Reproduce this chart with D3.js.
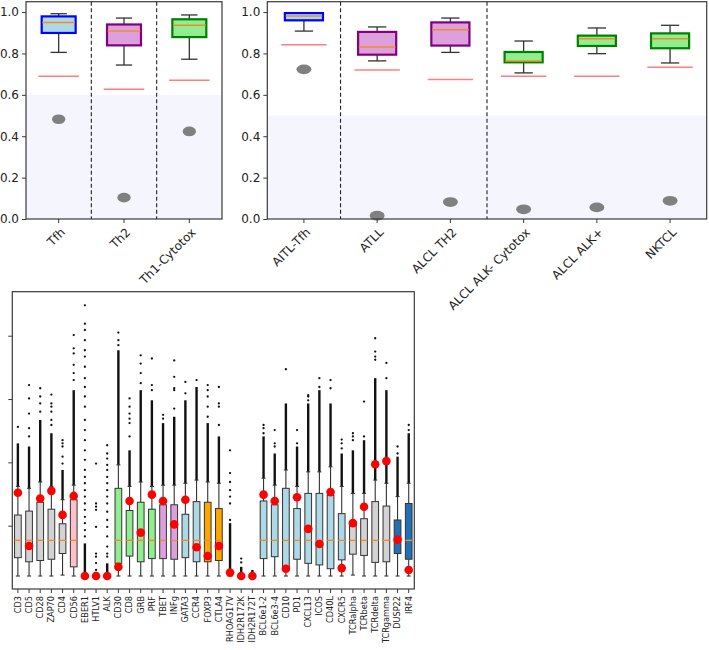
<!DOCTYPE html>
<html><head><meta charset="utf-8">
<script src="https://cdn.jsdelivr.net/npm/d3@7"></script>
<style>body{margin:0;background:#fff}svg text{font-family:"DejaVu Sans",sans-serif;fill:#222}</style>
</head><body><svg id="c" width="709" height="650"></svg>
<script>
// ---------- DATA: top-left panel ----------
const tlCats  = ["Tfh", "Th2", "Th1-Cytotox"];
const tlGroup = ["Tfh", "Th2", "Cytotox"];
const tlLow   = [0.805, 0.744, 0.772];
const tlQ1    = [0.899, 0.839, 0.879];
const tlMed   = [0.950, 0.908, 0.936];
const tlQ3    = [0.979, 0.940, 0.965];
const tlHigh  = [0.992, 0.971, 0.986];
const tlRef   = [0.690, 0.627, 0.670];
const tlDot   = [0.482, 0.103, 0.423];
const tlSepAfter = [0, 1];
const tlShade = 0.6;

// ---------- DATA: top-right panel ----------
const trCats  = ["AITL-Tfh", "ATLL", "ALCL TH2", "ALCL ALK- Cytotox", "ALCL ALK+", "NKTCL"];
const trGroup = ["Tfh", "Th2", "Th2", "Cytotox", "Cytotox", "Cytotox"];
const trLow   = [0.908, 0.764, 0.805, 0.706, 0.799, 0.754];
const trQ1    = [0.960, 0.794, 0.838, 0.757, 0.836, 0.825];
const trMed   = [0.981, 0.831, 0.915, 0.764, 0.871, 0.871];
const trQ3    = [0.995, 0.904, 0.950, 0.807, 0.886, 0.897];
const trHigh  = [0.995, 0.928, 0.971, 0.860, 0.923, 0.936];
const trRef   = [0.842, 0.720, 0.674, 0.690, 0.690, 0.733];
const trDot   = [0.723, 0.016, 0.082, 0.047, 0.056, 0.088];
const trSepAfter = [0, 2];
const trShade = 0.5;
const topTicks = [0.0, 0.2, 0.4, 0.6, 0.8, 1.0];

// ---------- DATA: bottom panel ----------
const bCats = ["CD3","CD5","CD28","ZAP70","CD4","CD56","EBER1","HTLV1","ALK","CD30","CD8","GRB","PRF","TBET","INFg","GATA3","CCR4","FOXP3","CTLA4","RHOAG17V","IDH2R172K","IDH2R172T","BCL6e1-2","BCL6e3-4","CD10","PD1","CXCL13","ICOS","CD40L","CXCR5","TCRalpha","TCRbeta","TCRdelta","TCRgamma","DUSP22","IRF4"];
const bGroup = ["T","T","T","T","T","NK","none","none","none","cyto","cyto","cyto","cyto","th1","th1","th2","th2","treg","treg","none","none","none","tfh","tfh","tfh","tfh","tfh","tfh","tfh","tfh","T","T","T","T","alk","alk"];
const bLow  = [2.05,2.05,2.05,2.05,2.2,2.05,2.05,2.05,2.05,2.05,2.05,2.05,2.05,2.05,2.05,2.05,2.05,2.05,2.05,2.05,2.05,2.05,2.05,2.05,2.05,2.05,2.05,2.05,2.05,2.05,2.2,2.05,2.05,2.05,2.05,2.05];
const bQ1   = [4.95,4.3,4.5,4.7,5.6,3.5,2.05,2.05,2.05,4.05,5.2,4.3,4.8,4.8,4.7,4.95,4.3,4.3,4.5,2.05,2.05,2.05,4.8,5.1,3.2,4.7,4.05,3.8,3.2,4.6,5.5,5.3,4.2,4.3,5.6,4.7];
const bMed  = [7.68,7.68,7.68,7.68,7.68,7.68,2.05,2.05,2.05,7.68,7.68,7.68,7.68,7.68,7.68,7.68,7.68,7.68,7.68,2.05,2.05,2.05,7.68,7.68,7.68,7.68,7.68,7.68,7.68,7.68,7.68,7.68,7.68,7.68,7.68,7.68];
const bQ3   = [11.68,12.3,13.7,12.6,10.3,14.1,2.05,2.05,2.05,15.9,12.4,13.7,12.6,13.3,13.3,11.8,13.8,13.7,12.7,2.05,2.05,2.05,13.9,13.3,15.9,12.7,15.1,15.1,14.8,11.9,10.2,11.1,13.8,13.1,10.9,13.5];
const bHigh = [16.2,15.9,16.9,16.2,14.1,16.4,2.05,2.05,2.05,19.6,16.2,16.9,16.2,16.4,16.4,16.7,17.2,16.9,16.7,2.05,2.05,2.05,17.5,16.4,18.8,16.2,18.5,18.5,19.3,16.2,15.1,15.1,17.2,16.7,14.6,16.7];
const bDenseTop = [23.0,22.5,26.7,24.6,18.8,31.4,7.2,2.7,4.05,37.7,21.9,31.4,29.8,26.2,27.2,29.8,31.9,26.2,24.1,10.4,3.5,3.0,24.1,21.4,29.3,22.5,29.3,31.4,29.3,21.4,21.9,23.5,33.3,31.4,20.9,24.6];
const bRed  = [15.2,6.8,14.3,15.5,11.7,14.7,2.05,2.05,2.05,3.5,13.9,8.9,14.9,13.9,10.2,14.1,6.6,5.2,6.8,2.6,2.05,2.05,14.9,13.9,3.2,14.5,9.5,7.1,15.3,3.3,10.4,13.0,19.7,20.2,7.8,3.0];
const bOutliers = [
  [25.6],
  [24.1,25.4,27.7,30.1,32.2],
  [28.0,29.3,30.4,31.7],
  [25.9,26.7,28.0,28.8,29.3,30.7],
  [19.8,20.9,22.5,23.0,23.5],
  [33.0,34.1,35.4,37.2,38.0,40.1],
  [8.3,9.3,10.4,11.4,12.5,13.5,14.6,15.6,16.7,17.7,18.8,20.4,21.9,23.5,25.1,26.7,28.8,30.4,31.9,33.3,35.1,36.7,37.7,39.3,40.9,41.9,44.8],
  [3.0,4.1,5.1,5.6,9.8,12.5,13.0,13.5,19.8],
  [5.1,5.6,6.7,8.3,9.8,10.9,12.2,13.5,14.6,15.6,16.7,17.7,18.8,19.6,20.6,21.4,22.7],
  [38.5,39.3,40.5],
  [24.1,26.2,26.9,27.7,28.8,30.1],
  [32.5,34.1,35.6,36.9],
  [31.4,32.2,36.4],
  [26.9,27.5],
  [28.5,31.4,31.7,33.5,36.1],
  [30.9,32.7],
  [33.0],
  [27.2,28.8,30.4,31.4,32.2],
  [25.9,28.8,29.3,31.9],
  [10.9,13.5,14.6,15.6,16.9,18.3,21.9],
  [4.2,4.8],
  [],
  [24.6,25.4,25.9],
  [22.5,23.0,25.1],
  [34.7],
  [23.0,25.1],
  [29.8,30.4,30.6],
  [31.9,33.3],
  [31.7,33.0],
  [22.2,23.0,23.6],
  [23.5,24.1,24.6],
  [24.1,29.6],
  [36.2,36.7,37.5,39.6],
  [33.3,35.7],
  [21.4,22.5],
  [25.1,25.9]
];
const bTicks = [10, 20, 30, 40];

// ---------- STYLES ----------
const topFill = {Tfh: "#add8e6", Th2: "#dda0dd", Cytotox: "#90ee90"};
const topEdge = {Tfh: "#0000ff", Th2: "#800080", Cytotox: "#008000"};
const botFill = {T: "#d3d3d3", NK: "#ffc0cb", none: "#d3d3d3", cyto: "#90ee90", th1: "#dda0dd", th2: "#add8e6", treg: "#ffa500", tfh: "#add8e6", alk: "#1f70b4"};
const MED = "#f28c28", FRAME = "#3a3a3a";

const svg = d3.select("#c");

function topPanel(o) {
  const g = svg.append("g");
  const y = d3.scaleLinear().domain([0, 1.05]).range([219, 1.7]);
  const x = d3.scaleBand().domain(o.cats).range([o.x0, o.x1]).padding(0);
  const bw = x.bandwidth();
  const idx = d3.range(o.cats.length);
  const cx = i => x(o.cats[i]) + bw / 2;
  g.append("rect").attr("x", o.x0).attr("width", o.x1 - o.x0)
    .attr("y", y(o.shade)).attr("height", y(0) - y(o.shade)).attr("fill", "#f5f6fd");
  g.selectAll(".sep").data(o.sep).join("line")
    .attr("x1", d => x(o.cats[d]) + bw).attr("x2", d => x(o.cats[d]) + bw)
    .attr("y1", y.range()[1]).attr("y2", y(0))
    .attr("stroke", "#222").attr("stroke-width", 1.1).attr("stroke-dasharray", "4,2.5");
  g.selectAll(".ref").data(idx).join("line")
    .attr("x1", i => cx(i) - 0.31 * bw).attr("x2", i => cx(i) + 0.31 * bw)
    .attr("y1", i => y(o.ref[i])).attr("y2", i => y(o.ref[i]))
    .attr("stroke", "#ff7f7f").attr("stroke-width", 1.5);
  g.selectAll(".dot").data(idx).join("ellipse")
    .attr("cx", cx).attr("cy", i => y(o.dot[i]))
    .attr("rx", 0.102 * bw).attr("ry", y(0) - y(0.0235)).attr("fill", "#808080");
  idx.forEach(i => {
    const c = cx(i);
    g.append("line").attr("x1", c).attr("x2", c).attr("y1", y(o.low[i])).attr("y2", y(o.q1[i])).attr("stroke", "#333").attr("stroke-width", 1.3);
    g.append("line").attr("x1", c).attr("x2", c).attr("y1", y(o.q3[i])).attr("y2", y(o.high[i])).attr("stroke", "#333").attr("stroke-width", 1.3);
    [o.low[i], o.high[i]].forEach(v => g.append("line").attr("x1", c - 0.125 * bw).attr("x2", c + 0.125 * bw)
      .attr("y1", y(v)).attr("y2", y(v)).attr("stroke", "#333").attr("stroke-width", 1.3));
  });
  g.selectAll(".box").data(idx).join("rect")
    .attr("x", i => cx(i) - 0.26 * bw).attr("width", 0.52 * bw)
    .attr("y", i => y(o.q3[i])).attr("height", i => y(o.q1[i]) - y(o.q3[i]))
    .attr("fill", i => topFill[o.group[i]]).attr("stroke", i => topEdge[o.group[i]]).attr("stroke-width", 2.2);
  g.selectAll(".med").data(idx).join("line")
    .attr("x1", i => cx(i) - 0.25 * bw).attr("x2", i => cx(i) + 0.25 * bw)
    .attr("y1", i => y(o.med[i])).attr("y2", i => y(o.med[i]))
    .attr("stroke", MED).attr("stroke-width", 1.5);
  g.append("rect").attr("x", o.x0).attr("y", y.range()[1]).attr("width", o.x1 - o.x0).attr("height", y(0) - y.range()[1])
    .attr("fill", "none").attr("stroke", FRAME).attr("stroke-width", 1.2);
  const ya = g.append("g").attr("transform", `translate(${o.x0},0)`)
    .call(d3.axisLeft(y).tickValues(topTicks).tickFormat(d3.format(".1f")).tickSize(4).tickPadding(3));
  ya.select(".domain").remove();
  ya.selectAll("text").style("font-size", "12px");
  ya.selectAll("line").attr("stroke", FRAME);
  const xa = g.append("g").attr("transform", `translate(0,${y(0)})`)
    .call(d3.axisBottom(x).tickSize(4).tickFormat(""));
  xa.select(".domain").remove();
  xa.selectAll("line").attr("stroke", FRAME);
  g.selectAll(".xl").data(idx).join("text")
    .attr("transform", i => `translate(${cx(i) + 1},${y(0) + 8}) rotate(-45)`)
    .attr("text-anchor", "end").attr("dy", "0.72em").style("font-size", "12px")
    .text(i => o.cats[i]);
}

topPanel({cats: tlCats, group: tlGroup, low: tlLow, q1: tlQ1, med: tlMed, q3: tlQ3, high: tlHigh, ref: tlRef, dot: tlDot, sep: tlSepAfter, shade: tlShade, x0: 26, x1: 222});
topPanel({cats: trCats, group: trGroup, low: trLow, q1: trQ1, med: trMed, q3: trQ3, high: trHigh, ref: trRef, dot: trDot, sep: trSepAfter, shade: trShade, x0: 267.3, x1: 706.7});

// ---------- bottom panel ----------
(function () {
  const g = svg.append("g");
  const y = d3.scaleLinear().domain([0, 46.95]).range([589, 291.7]);
  const x = d3.scaleBand().domain(bCats).range([12.3, 414.3]).padding(0);
  const bw = x.bandwidth();
  const idx = d3.range(bCats.length);
  const cx = i => x(bCats[i]) + bw / 2;
  idx.forEach(i => {
    const c = cx(i);
    g.append("line").attr("x1", c).attr("x2", c).attr("y1", y(bHigh[i])).attr("y2", y(bDenseTop[i]))
      .attr("stroke", "#111").attr("stroke-width", 2.4);
    bOutliers[i].forEach(v => g.append("circle").attr("cx", c).attr("cy", y(v)).attr("r", 1.15).attr("fill", "#111"));
    g.append("line").attr("x1", c).attr("x2", c).attr("y1", y(bLow[i])).attr("y2", y(bQ1[i])).attr("stroke", "#333").attr("stroke-width", 1.1);
    g.append("line").attr("x1", c).attr("x2", c).attr("y1", y(bQ3[i])).attr("y2", y(bHigh[i])).attr("stroke", "#333").attr("stroke-width", 1.1);
    [bLow[i], bHigh[i]].forEach(v => g.append("line").attr("x1", c - 0.18 * bw).attr("x2", c + 0.18 * bw)
      .attr("y1", y(v)).attr("y2", y(v)).attr("stroke", "#333").attr("stroke-width", 1.1));
    if (bQ3[i] > bQ1[i]) {
      g.append("rect").attr("x", c - 0.3 * bw).attr("width", 0.6 * bw)
        .attr("y", y(bQ3[i])).attr("height", y(bQ1[i]) - y(bQ3[i]))
        .attr("fill", botFill[bGroup[i]]).attr("stroke", "#333").attr("stroke-width", 1);
    }
    g.append("line").attr("x1", c - 0.3 * bw).attr("x2", c + 0.3 * bw)
      .attr("y1", y(bMed[i])).attr("y2", y(bMed[i])).attr("stroke", MED).attr("stroke-width", 1.4);
  });
  g.selectAll(".rd").data(idx).join("circle")
    .attr("cx", cx).attr("cy", i => y(bRed[i])).attr("r", 4.3).attr("fill", "#ff0000");
  g.append("rect").attr("x", 12.3).attr("y", 291.7).attr("width", 402).attr("height", 589 - 291.7)
    .attr("fill", "none").attr("stroke", FRAME).attr("stroke-width", 1.2);
  const ya = g.append("g").attr("transform", "translate(12.3,0)")
    .call(d3.axisLeft(y).tickValues(bTicks).tickFormat("").tickSize(4));
  ya.select(".domain").remove();
  ya.selectAll("line").attr("stroke", FRAME);
  const xa = g.append("g").attr("transform", "translate(0,589)")
    .call(d3.axisBottom(x).tickSize(4).tickFormat(""));
  xa.select(".domain").remove();
  xa.selectAll("line").attr("stroke", FRAME);
  g.selectAll(".xl").data(idx).join("text")
    .attr("transform", i => `translate(${cx(i)},596) rotate(-90)`)
    .attr("text-anchor", "end").attr("dy", "0.35em").style("font-size", "8.2px")
    .text(i => bCats[i]);
})();
</script></body></html>
